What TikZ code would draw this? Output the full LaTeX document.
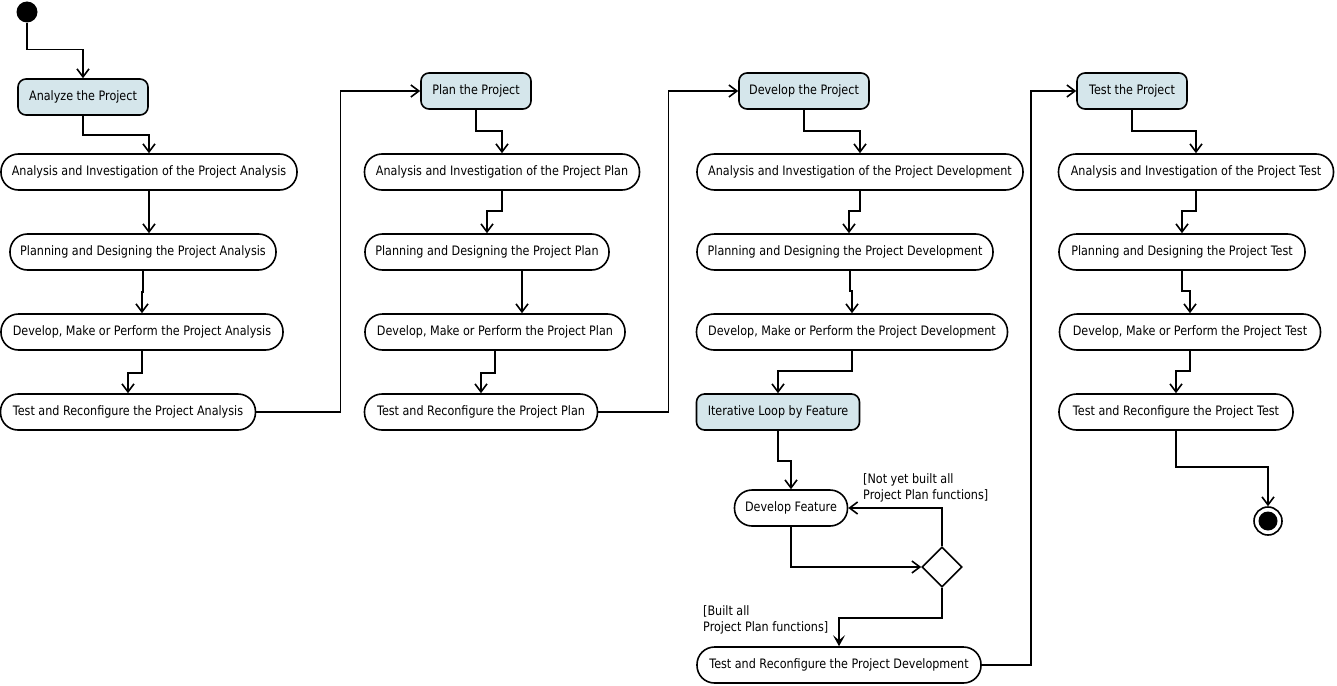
\documentclass[tikz,border=0pt]{standalone}
\usepackage{fontspec}
\setmainfont{DejaVu Sans}[FakeStretch=0.86]
\usetikzlibrary{arrows.meta,shapes.geometric,calc}
\definecolor{boxblue}{HTML}{D5E6EB}
\tikzset{
  act/.style={draw, line width=1.6pt, rounded corners=17.5pt, minimum height=36pt, inner sep=0pt, fill=white},
  grp/.style={draw, line width=1.6pt, rounded corners=8pt, minimum height=36pt, inner sep=0pt, fill=boxblue},
  arr/.style={line width=1.6pt, -{Straight Barb[length=8pt,width=12pt,line width=1.6pt]}},
  arrf/.style={line width=1.6pt, -{Stealth[length=11pt,width=12pt,inset=5pt]}},
  lbl/.style={anchor=north west, inner sep=0pt, align=left},
}
\begin{document}
\begin{tikzpicture}[x=1pt,y=-1pt,font=\fontsize{13}{16}\selectfont]
\useasboundingbox (0,0) rectangle (1337,685);
% start
\node[circle, fill=black, minimum size=21pt, inner sep=0pt] (start) at (27,12) {};
% column 1
\node[grp, minimum width=130pt] (an) at (83,97) {Analyze the Project};
\node[act, minimum width=296pt] (a1) at (149,172) {Analysis and Investigation of the Project Analysis};
\node[act, minimum width=266pt] (a2) at (143,252) {Planning and Designing the Project Analysis};
\node[act, minimum width=282pt] (a3) at (142,332) {Develop, Make or Perform the Project Analysis};
\node[act, minimum width=255pt] (a4) at (128,412) {Test and Reconfigure the Project Analysis};
% column 2
\node[grp, minimum width=110pt] (pl) at (476,91) {Plan the Project};
\node[act, minimum width=275pt] (b1) at (502,172) {Analysis and Investigation of the Project Plan};
\node[act, minimum width=244pt] (b2) at (487,252) {Planning and Designing the Project Plan};
\node[act, minimum width=260pt] (b3) at (495,332) {Develop, Make or Perform the Project Plan};
\node[act, minimum width=233pt] (b4) at (481,412) {Test and Reconfigure the Project Plan};
% column 3
\node[grp, minimum width=130pt] (dv) at (804,91) {Develop the Project};
\node[act, minimum width=326pt] (c1) at (860,172) {Analysis and Investigation of the Project Development};
\node[act, minimum width=296pt] (c2) at (845,252) {Planning and Designing the Project Development};
\node[act, minimum width=311pt] (c3) at (852,332) {Develop, Make or Perform the Project Development};
\node[grp, minimum width=163pt] (it) at (778,412) {Iterative Loop by Feature};
\node[act, minimum width=113pt] (c5) at (791,508) {Develop Feature};
\node[diamond, draw, line width=1.6pt, minimum width=40pt, minimum height=40pt, inner sep=0pt, fill=white] (dia) at (942,567) {};
\node[act, minimum width=284pt] (c6) at (839,665) {Test and Reconfigure the Project Development};
\node[lbl] (l1) at (863,473) {[Not yet built all\\Project Plan functions]};
\node[lbl] (l2) at (703,605) {[Built all\\Project Plan functions]};
% column 4
\node[grp, minimum width=110pt] (ts) at (1132,91) {Test the Project};
\node[act, minimum width=275pt] (d1) at (1196,172) {Analysis and Investigation of the Project Test};
\node[act, minimum width=246pt] (d2) at (1182,252) {Planning and Designing the Project Test};
\node[act, minimum width=261pt] (d3) at (1190,332) {Develop, Make or Perform the Project Test};
\node[act, minimum width=234pt] (d4) at (1176,412) {Test and Reconfigure the Project Test};
% end
\node[circle, draw, line width=1.6pt, minimum size=28pt, inner sep=0pt] (end) at (1268,521) {};
\fill (end.center) circle (9.5pt);
% connectors column 1
\draw[arr] (start.south) -- ++(0,27) -| (an.north);
\draw[arr] (an.south) -- ++(0,19) -| (a1.north);
\draw[arr] (a1.south) -- (a1.south |- a2.north);
\draw[arr] (a2.south) -- ++(0,21) -| (a3.north);
\draw[arr] (a3.south) -- ++(0,22) -| (a4.north);
\draw[arr] (a4.east) -- ++(84,0) |- (pl.west);
% column 2
\draw[arr] (pl.south) -- ++(0,21) -| (b1.north);
\draw[arr] (b1.south) -- ++(0,20) -| (b2.north);
\draw[arr] ([xshift=35pt]b2.south) -- ([xshift=35pt]b2.south |- b3.north);
\draw[arr] (b3.south) -- ++(0,22) -| (b4.north);
\draw[arr] (b4.east) -- ++(70,0) |- (dv.west);
% column 3
\draw[arr] (dv.south) -- ++(0,21) -| (c1.north);
\draw[arr] (c1.south) -- ++(0,20) -| ([xshift=4pt]c2.north);
\draw[arr] ([xshift=5pt]c2.south) -- ++(0,20) -| (c3.north);
\draw[arr] (c3.south) -- ++(0,20) -| (it.north);
\draw[arr] (it.south) -- ++(0,30) -| (c5.north);
\draw[arr] (c5.south) |- (dia.west);
\draw[arr] (dia.north) |- (c5.east);
\draw[arrf] (dia.south) -- ++(0,30) -| (c6.north);
\draw[arr] (c6.east) -- ++(49,0) |- (ts.west);
% column 4
\draw[arr] (ts.south) -- ++(0,21) -| (d1.north);
\draw[arr] (d1.south) -- ++(0,20) -| (d2.north);
\draw[arr] (d2.south) -- ++(0,20) -| (d3.north);
\draw[arr] (d3.south) -- ++(0,20) -| (d4.north);
\draw[arr] (d4.south) -- ++(0,36) -| (end.north);
\end{tikzpicture}
\end{document}
